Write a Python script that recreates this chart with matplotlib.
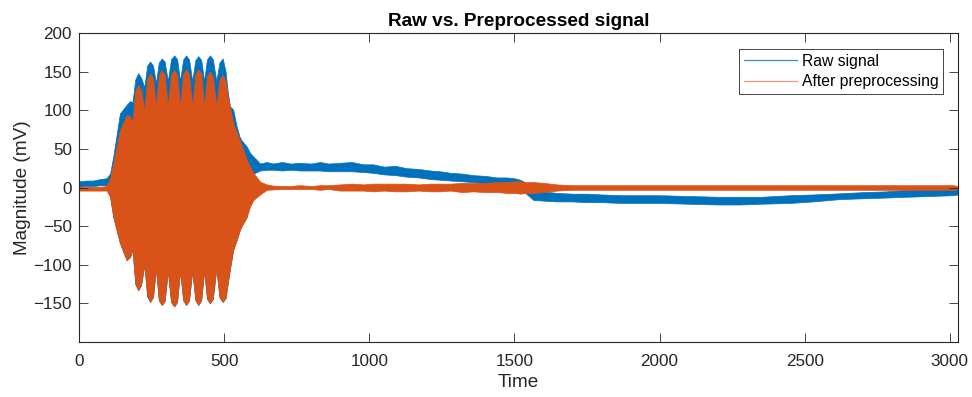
import matplotlib
matplotlib.use("Agg")
import matplotlib.pyplot as plt
from matplotlib.lines import Line2D

# ---- data (signal envelopes) ----
time = [0, 25, 50, 75, 95, 107, 118,
        141, 164, 176, 184, 194, 204, 214, 225, 235, 245, 255, 265, 275, 285,
        295, 306, 317, 328, 338, 348, 359, 369, 379, 390, 401, 411, 421, 431,
        441, 451, 461, 473, 484, 495, 505, 512, 520,
        531, 543, 554, 560, 578, 589, 601, 624,
        647, 668, 700, 730, 760, 800, 830, 860, 900, 940, 980, 1013, 1050,
        1090, 1129, 1170, 1210, 1244, 1280, 1320, 1358, 1400, 1440, 1474, 1500,
        1520, 1540, 1565, 1600, 1645, 1700, 1750, 1800, 1870, 1932, 2000, 2100,
        2200, 2277, 2350, 2450, 2530, 2621, 2700, 2780, 2852, 2930, 3010, 3028]

raw_hi = [8, 9, 9, 11, 12, 18, 40,
          96, 107, 112, 110, 140, 148, 142, 130, 158, 163, 158, 135, 162, 167,
          163, 138, 166, 171, 166, 138, 166, 171, 166, 138, 165, 170, 165, 138,
          166, 171, 166, 138, 162, 167, 150, 125, 105,
          101, 79, 65, 61, 53, 45, 40, 31,
          33, 31, 33, 31, 32, 31, 33, 31, 32, 33, 30, 30, 27,
          28, 25, 24, 22, 21, 19, 18, 16, 15, 13, 13, 12,
          10, 6, -2, -5, -7, -8, -8, -9, -10, -10, -10, -11,
          -12, -12, -12, -10, -9, -7.5, -6, -5, -3, -2, -1, 0]

raw_lo = [1, 2, 2, 3, 3, -12, -38,
          -72, -94, -90, -80, -125, -133, -126, -100, -141, -148, -142, -105, -146, -152,
          -147, -108, -148, -154, -148, -108, -146, -152, -146, -108, -146, -152, -146, -108,
          -144, -150, -144, -105, -142, -148, -143, -125, -105,
          -81, -68, -55, -50, -38, 16, 18, 22,
          23, 23, 22, 23, 22, 22, 22, 21, 21, 21, 20, 19, 17,
          16, 14, 13, 11, 10, 9, 8, 7, 5, 4, 3, 1,
          -2, -8, -16, -17, -18, -18, -19, -19, -20, -20, -20, -21,
          -22, -22, -21, -20, -18, -15, -14, -13, -12, -11, -10, -9]

proc_hi = [1, 1, 1, 1, 2, 12, 31,
           74, 94, 92, 85, 125, 133, 126, 100, 140, 148, 141, 105, 145, 152,
           146, 105, 146, 152, 146, 105, 147, 153, 147, 105, 147, 153, 147, 105,
           144, 150, 144, 105, 140, 146, 138, 118, 105,
           83, 72, 61, 55, 36, 27, 19, 7.5,
           4, 2.5, 2, 2, 3, 2, 3, 3, 4, 5, 4, 5, 5,
           5, 5, 4, 5, 5, 5, 6, 6, 6, 7, 7, 8,
           8, 7, 7, 6, 4, 3, 3, 3, 3, 3, 3, 3,
           3, 3, 3, 3, 3, 3, 3, 3, 3, 3, 3, 2]

proc_lo = [-4, -4, -4, -4, -4, -12, -38,
           -72, -94, -90, -80, -125, -133, -126, -100, -141, -148, -142, -105, -146, -152,
           -147, -108, -148, -154, -148, -108, -146, -152, -146, -108, -146, -152, -146, -108,
           -144, -150, -144, -105, -142, -148, -143, -125, -105,
           -81, -68, -55, -50, -38, -25, -16, -9,
           -3, -2.5, -2, -2, -2, -2, -3, -2, -4, -4, -4, -5, -4,
           -5, -5, -4, -5, -5, -4, -6, -5, -6, -6, -7, -7,
           -8, -7, -7, -6, -4, -3, -3, -3, -3, -3, -3, -3,
           -3, -3, -3, -3, -3, -3, -3, -3, -3, -3, -3, -2]

x_ticks = [0, 500, 1000, 1500, 2000, 2500, 3000]
y_ticks = [-150, -100, -50, 0, 50, 100, 150, 200]
series_names = ["Raw signal", "After preprocessing"]

# ---- style ----
BLUE = "#0072BD"
ORANGE = "#D95319"
DARK = "#262626"
plt.rcParams["font.family"] = ["Liberation Sans", "DejaVu Sans"]

fig = plt.figure(figsize=(9.72, 3.97), dpi=100)
W, H = 972, 397
ax = fig.add_axes([79 / W, 1 - 342 / H, (958 - 79) / W, (342 - 33) / H])

ax.fill_between(time, raw_lo, raw_hi, color=BLUE, linewidth=0.5, edgecolor=BLUE)
ax.fill_between(time, proc_lo, proc_hi, color=ORANGE, linewidth=0.5, edgecolor=ORANGE)

ax.set_xlim(0, 3028)
ax.set_ylim(-200, 200)
ax.set_xticks(x_ticks)
ax.set_yticks(y_ticks)
ax.tick_params(direction="in", length=6.3, width=0.6, colors=DARK,
               labelsize=12.3, top=True, right=True)
ax.tick_params(axis="x", pad=8.5)
ax.tick_params(axis="y", pad=5)
for s in ax.spines.values():
    s.set_color(DARK)
    s.set_linewidth(0.8)

ax.set_title("Raw vs. Preprocessed signal", fontsize=13.7, fontweight="bold",
             color="black", pad=5)
ax.set_xlabel("Time", fontsize=13.7, color=DARK, labelpad=4)
ax.set_ylabel("Magnitude (mV)", fontsize=13.7, color=DARK, labelpad=1.5)

handles = [Line2D([], [], color="#3A8CCB", linewidth=0.9),
           Line2D([], [], color="#EE9A78", linewidth=0.9)]
leg = ax.legend(handles, series_names, loc="upper right",
                bbox_to_anchor=((943 - 79) / 879, (342 - 49) / 309),
                fontsize=11.3, frameon=True, fancybox=False, framealpha=1,
                edgecolor=DARK, handlelength=3.37, handletextpad=0.32,
                borderpad=0.3, labelspacing=0.35, borderaxespad=0)
leg.get_frame().set_linewidth(0.6)

fig.savefig("out.png", dpi=100)
